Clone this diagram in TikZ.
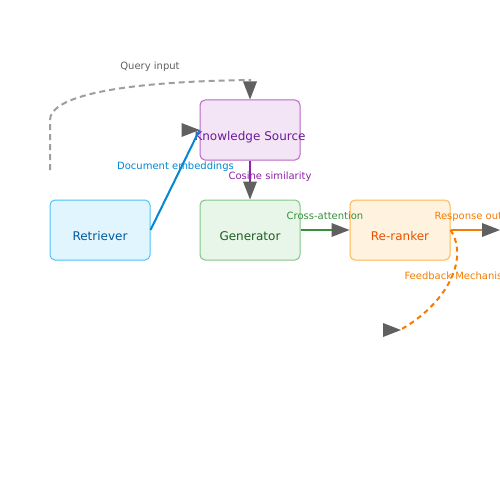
\documentclass[tikz,border=0pt]{standalone}
\usepackage{fontspec}
\setmainfont{DejaVu Sans}
\usetikzlibrary{arrows.meta,calc}
\definecolor{ksfill}{HTML}{F3E5F5}\definecolor{ksdraw}{HTML}{BA68C8}\definecolor{kstext}{HTML}{6A1B9A}
\definecolor{rtfill}{HTML}{E1F5FE}\definecolor{rtdraw}{HTML}{4FC3F7}\definecolor{rttext}{HTML}{01579B}
\definecolor{gnfill}{HTML}{E8F5E9}\definecolor{gndraw}{HTML}{81C784}\definecolor{gntext}{HTML}{1B5E20}
\definecolor{rrfill}{HTML}{FFF3E0}\definecolor{rrdraw}{HTML}{FFB74D}\definecolor{rrtext}{HTML}{E65100}
\definecolor{eblue}{HTML}{0288D1}\definecolor{epurple}{HTML}{8E24AA}
\definecolor{egreen}{HTML}{388E3C}\definecolor{eorange}{HTML}{F57C00}
\definecolor{egray}{HTML}{9E9E9E}\definecolor{lgray}{HTML}{616161}
\definecolor{tipgray}{HTML}{606060}
\tikzset{
  box/.style={draw, rounded corners=5pt, line width=1pt, minimum width=100pt,
    minimum height=60pt, inner sep=0pt, text height=20pt, text depth=0pt,
    font=\fontsize{12pt}{14pt}\selectfont},
  elabel/.style={font=\fontsize{10pt}{12pt}\selectfont, inner sep=0pt},
  edge/.style={line width=2pt},
  tip/.style={-{Triangle[length=18pt,width=14pt,color=tipgray,line width=0pt]}},
  dashline/.style={line width=2pt, dash pattern=on 6pt off 4pt},
}
\begin{document}
\begin{tikzpicture}[x=1pt,y=-1pt]
\useasboundingbox (0,0) rectangle (500,500);
\clip (0,0) rectangle (500,500);
\fill[white] (0,0) rectangle (500,500);
% nodes
\node[box, fill=ksfill, draw=ksdraw, text=kstext] (ks) at (250,130) {\makebox[0pt][c]{Knowledge Source}};
\node[box, fill=rtfill, draw=rtdraw, text=rttext] (ret) at (100,230) {Retriever};
\node[box, fill=gnfill, draw=gndraw, text=gntext] (gen) at (250,230) {Generator};
\node[box, fill=rrfill, draw=rrdraw, text=rrtext] (rr) at (400,230) {Re-ranker};
\coordinate (qstart) at (50,170);
\coordinate (qbend) at (50,120);
\coordinate (qtop) at (250,80);
\coordinate (out) at (500,230);
\coordinate (fb) at (400,330);
% query input
\draw[dashline, egray, tip] (qstart) -- (qbend) .. controls (50,100) and (100,82) .. (qtop) -- (ks.north);
\node[elabel, text=lgray, anchor=base] (lq) at (150,70) {Query input};
% document embeddings
\draw[edge, eblue] (ret.east) -- (ks.west);
\draw[edge, tipgray, tip] ($(ks.west)+(-18,0)$) -- (ks.west);
\node[elabel, text=eblue, anchor=base] (ld) at (175.5,169) {Document embeddings};
% cosine similarity
\draw[edge, epurple, tip] (ks.south) -- (gen.north);
\node[elabel, text=epurple, anchor=base] (lc) at (270,179) {Cosine similarity};
% cross-attention
\draw[edge, egreen, tip] (gen.east) -- (rr.west);
\node[elabel, text=egreen, anchor=base] (lx) at (325,219) {Cross-attention};
% response output
\draw[edge, eorange, tip] (rr.east) -- (out);
\node[elabel, text=eorange, anchor=base west] (lr) at (434.3,219) {Response output};
% feedback
\draw[dashline, eorange, dash pattern=on 5pt off 4pt] (rr.east) .. controls (470,260) and (445,305) .. (fb);
\draw[edge, tipgray, tip] ($(fb)+(-17,0)$) -- ($(fb)+(1,0)$);
\node[elabel, text=eorange, anchor=base west] (lf) at (404.3,279) {Feedback Mechanism};
\end{tikzpicture}
\end{document}
